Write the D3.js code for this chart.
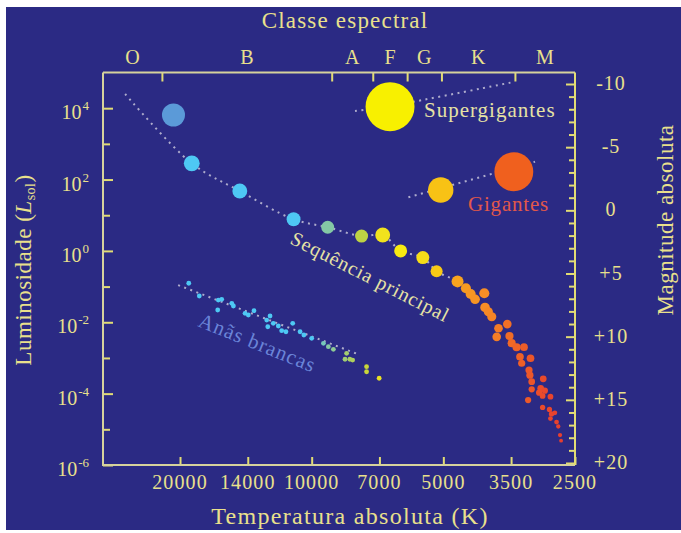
<!DOCTYPE html>
<html><head><meta charset="utf-8">
<script src="https://cdn.jsdelivr.net/npm/d3@7"></script>
<style>
html,body{margin:0;padding:0;background:#fff;}
svg{display:block;font-family:"Liberation Serif","Times New Roman",serif;}
</style></head><body>
<svg id="c" width="681" height="533"></svg>
<script>
// ---------- DATA ----------
const spectralClasses = ["O","B","A","F","G","K","M"];
const spectralBounds = [30000, 22000, 9000, 7250, 6050, 5050, 3430, 2500];
const temperatureTicks = [20000, 14000, 10000, 7000, 5000, 3500, 2500];
const luminosityExponents = [-6,-5,-4,-3,-2,-1,0,1,2,3,4];
const magnitudeTicks = d3.range(-10, 21, 1);
const magnitudeLabels = [-10,-5,0,5,10,15,20];

// Main sequence stars: temperature (K), luminosity (L_sol), relative size
const mainSeqT = [18800, 14600, 11000, 9190, 7690, 6880, 6260, 5570, 5180, 4640];
const mainSeqL = [285, 47.7, 7.7, 4.6, 2.6, 2.8, 1.0, 0.65, 0.27, 0.14];
const mainSeqSize = [33, 31, 29, 27, 27, 31, 27, 27, 25, 25];

// Red dwarfs (lower main sequence)
const redDwarfT = [4440,4330,4230,4030,4015,3945,3875,3570,3740,3775,3530,3490,3400,3270,3340,3160,3310,3185,3170,2955,3140,2995,3140,2930,3020,3200,2965,2845,2965,2860,2830,2780,2845,2755,2730,2705,2690];
const redDwarfL = [0.0895,0.062,0.044,0.065,0.026,0.0198,0.0143,0.0089,0.0068,0.0039,0.0041,0.0026,0.0020,0.0020,0.00108,0.00098,0.00071,0.00046,0.00033,0.00026,0.000216,0.000141,0.000132,0.000121,0.000106,6.6e-5,8.6e-5,8.2e-5,4.1e-5,3.6e-5,2.7e-5,2.9e-5,2.0e-5,1.6e-5,1.2e-5,6.9e-6,4.8e-6];
const redDwarfSize = [21,21,20,21,20,19,19,18,18,18,17,17,17,16,16,16,15,15,15,14,14,14,13,13,13,13,12,12,11,11,11,10,10,10,9,9,8];

// White dwarfs
const whiteDwarfT = [19100,18070,16400,16350,16060,15230,15100,14200,13960,13550,12670,12450,12240,12600,11920,11710,11450,11050,10630,10420,10000,9400,9160,8920,8320,8390,8180,8060,7490,7490,7010];
const whiteDwarfL = [0.124,0.0545,0.0221,0.042,0.044,0.034,0.0286,0.0178,0.016,0.0211,0.01156,0.015,0.00935,0.0075,0.00785,0.0058,0.00543,0.00935,0.00543,0.0044,0.00355,0.00257,0.00207,0.00175,0.00135,0.00092,0.00092,0.00087,0.00057,0.00041,0.00027];
const whiteDwarfSize = 10;

// Giants and supergiants
const giantNames = ["blue", "super", "yellowGiant", "redGiant"];
const giantT = [20700, 6620, 5070, 3450];
const giantL = [6440, 11000, 51, 166];
const giantSize = [48, 102, 53, 81];

// Dotted guide curves (T, L)
const mainSeqTrackT = [26700, 18800, 14600, 11000, 9190, 7690, 6880, 6260, 5570, 5180, 4640, 4440];
const mainSeqTrackL = [25000, 285, 47.7, 7.7, 4.6, 2.6, 2.8, 1.0, 0.65, 0.27, 0.14, 0.0895];
const superTrackT = [7960, 6620, 3430];
const superTrackL = [8340, 11500, 55200];
const giantTrackT = [6010, 3085];
const giantTrackL = [31.8, 316];
const wdTrackT = [20200, 7750];
const wdTrackL = [0.11, 0.00121];

// Temperature -> star colour
const colorStopsT = [30000, 10000, 9200, 7700, 6900, 6600, 6000, 5500, 5100, 4600, 4000, 3500, 3000, 2600];
const colorStops = ["#4ec8f4","#4ec8f4","#84c8a6","#bcd244","#f0e21e","#f8ee08","#f8e618","#f6dc18","#f8c414","#f8a020","#f68c26","#f06a26","#ea4c2c","#e43a30"];

// ---------- CHART ----------
const svg = d3.select("#c");
const BG = "#2b2a84";
const TXT = "#e9e08c";
const FRAME = "#d6d29c";
const TICK = "#e2dc74";
const DOT = "#aeaccc";

svg.append("rect").attr("x",6).attr("y",7).attr("width",675).attr("height",523).attr("fill",BG);

const L = 103, R = 575, T = 72.5, B = 465;
const x = d3.scaleLog().domain([30000, 2500]).range([L, R]);
const y = d3.scaleLog().domain([1e-6, 1e5]).range([B, T]);
const mag = d3.scaleLinear().domain([-10, 20]).range([84, 463]);
const rs = d3.scaleLinear().domain([0, 100]).range([0, 24]);
const col = d3.scaleLog().domain(colorStopsT).range(colorStops).interpolate(d3.interpolateRgb).clamp(true);

// axes
function styleAxis(g){ g.select(".domain").remove(); g.selectAll("line").attr("stroke",TICK).attr("stroke-width",2); g.selectAll("text").remove(); }

svg.append("g").attr("transform",`translate(${L},0)`)
  .call(d3.axisLeft(y).tickValues(luminosityExponents.filter(e=>e%2===0).map(e=>Math.pow(10,e))).tickSizeInner(-10).tickSizeOuter(0)).call(styleAxis);
svg.append("g").attr("transform",`translate(${L},0)`)
  .call(d3.axisLeft(y).tickValues(luminosityExponents.filter(e=>e%2!==0).map(e=>Math.pow(10,e))).tickSizeInner(-7).tickSizeOuter(0)).call(styleAxis);

svg.append("g").attr("transform",`translate(0,${B})`)
  .call(d3.axisBottom(x).tickValues(temperatureTicks).tickSizeInner(-8).tickSizeOuter(0)).call(styleAxis);

svg.append("g").attr("transform",`translate(0,${T})`)
  .call(d3.axisTop(x).tickValues(spectralBounds.slice(1,-1)).tickSizeInner(-9).tickSizeOuter(0)).call(styleAxis);

svg.append("g").attr("transform",`translate(${R},0)`)
  .call(d3.axisRight(mag).tickValues(magnitudeTicks.filter(v=>v%5!==0)).tickSizeInner(-6).tickSizeOuter(0)).call(styleAxis);
svg.append("g").attr("transform",`translate(${R},0)`)
  .call(d3.axisRight(mag).tickValues(magnitudeTicks.filter(v=>v%5===0)).tickSizeInner(-9).tickSizeOuter(0)).call(styleAxis);

// frame
svg.append("path").attr("d",`M${L},${T}H${R}`).attr("stroke",FRAME).attr("stroke-width",2).attr("fill","none");
svg.append("path").attr("d",`M${L},${T}V${B}H${R}`).attr("stroke",FRAME).attr("stroke-width",2).attr("fill","none");
svg.append("path").attr("d",`M${R},${T}V${B}`).attr("stroke",TICK).attr("stroke-width",2).attr("fill","none");

// tick labels
const lum = svg.append("g").attr("fill",TXT);
luminosityExponents.filter(e=>e%2===0).forEach(e=>{
  const t = lum.append("text").attr("x",89).attr("y",y(Math.pow(10,e))+11).attr("text-anchor","end").attr("font-size",20);
  t.append("tspan").text("10");
  t.append("tspan").attr("dy",-9).attr("dx",1).attr("font-size",13).text(String(e));
});

svg.append("g").selectAll("text").data(temperatureTicks).join("text")
  .attr("x",d=>x(d)).attr("y",489).attr("text-anchor","middle").attr("font-size",20)
  .attr("letter-spacing",1.1).attr("fill",TXT).text(d=>d);

svg.append("g").selectAll("text").data(magnitudeLabels).join("text")
  .attr("x",611).attr("y",d=>mag(d)+6).attr("text-anchor","middle").attr("font-size",20)
  .attr("letter-spacing",1).attr("fill",TXT).text(d=>d>0?"+"+d:String(d));

svg.append("g").selectAll("text").data(spectralClasses).join("text")
  .attr("x",(d,i)=>(x(spectralBounds[i])+x(spectralBounds[i+1]))/2).attr("y",64)
  .attr("text-anchor","middle").attr("font-size",20).attr("fill",TXT).text(d=>d);

// axis titles
svg.append("text").attr("x",345).attr("y",28).attr("text-anchor","middle").attr("font-size",23).attr("letter-spacing",1.2).attr("fill",TXT).text("Classe espectral");
svg.append("text").attr("x",350).attr("y",524).attr("text-anchor","middle").attr("font-size",24).attr("letter-spacing",1.3).attr("fill",TXT).text("Temperatura absoluta (K)");
const ylab = svg.append("text").attr("transform","translate(31,270) rotate(-90)").attr("text-anchor","middle").attr("font-size",23).attr("letter-spacing",0.5).attr("fill",TXT);
ylab.append("tspan").text("Luminosidade (");
ylab.append("tspan").attr("font-style","italic").text("L");
ylab.append("tspan").attr("font-size",14).attr("dy",4).text("sol");
ylab.append("tspan").attr("dy",-4).text(")");
svg.append("text").attr("transform","translate(673,220) rotate(-90)").attr("text-anchor","middle").attr("font-size",23).attr("letter-spacing",0.5).attr("fill",TXT).text("Magnitude absoluta");

// dotted guide curves
const line = d3.line().x(d=>x(d[0])).y(d=>y(d[1])).curve(d3.curveCatmullRom);
const tracks = [
  d3.zip(mainSeqTrackT, mainSeqTrackL),
  d3.zip(superTrackT, superTrackL),
  d3.zip(giantTrackT, giantTrackL),
  d3.zip(wdTrackT, wdTrackL)
];
svg.append("g").selectAll("path").data(tracks).join("path")
  .attr("d",line).attr("fill","none").attr("stroke",DOT).attr("stroke-width",2).attr("stroke-dasharray","2,4.5");

// white dwarfs
svg.append("g").selectAll("circle").data(d3.zip(whiteDwarfT, whiteDwarfL)).join("circle")
  .attr("cx",d=>x(d[0])).attr("cy",d=>y(d[1])).attr("r",rs(whiteDwarfSize)).attr("fill",d=>col(d[0]));

// red dwarfs
svg.append("g").selectAll("circle").data(d3.zip(redDwarfT, redDwarfL, redDwarfSize)).join("circle")
  .attr("cx",d=>x(d[0])).attr("cy",d=>y(d[1])).attr("r",d=>rs(d[2])).attr("fill",d=>col(d[0]));

// main sequence
svg.append("g").selectAll("circle").data(d3.zip(mainSeqT, mainSeqL, mainSeqSize)).join("circle")
  .attr("cx",d=>x(d[0])).attr("cy",d=>y(d[1])).attr("r",d=>rs(d[2])).attr("fill",d=>col(d[0]));

// giants
svg.append("g").selectAll("circle").data(d3.zip(giantNames, giantT, giantL, giantSize)).join("circle")
  .attr("cx",d=>x(d[1])).attr("cy",d=>y(d[2])).attr("r",d=>rs(d[3]))
  .attr("fill",d=>d[0]==="blue" ? "#5b9ad8" : d[0]==="redGiant" ? "#f0601e" : d[0]==="super" ? "#f8f000" : col(d[1]));

// region labels
svg.append("text").attr("x",424).attr("y",117).attr("font-size",21).attr("letter-spacing",1).attr("fill","#e6e2a4").text("Supergigantes");
svg.append("text").attr("x",468).attr("y",211).attr("font-size",21).attr("letter-spacing",0.8).attr("fill","#e2584a").text("Gigantes");
svg.append("text").attr("transform","translate(289,243) rotate(27)").attr("font-size",20).attr("letter-spacing",0.9).attr("fill","#e6e2a4").text("Sequência principal");
svg.append("text").attr("transform","translate(197,326) rotate(22)").attr("font-size",21).attr("letter-spacing",1).attr("fill","#6a84d8").text("Anãs brancas");
</script>
</body></html>
